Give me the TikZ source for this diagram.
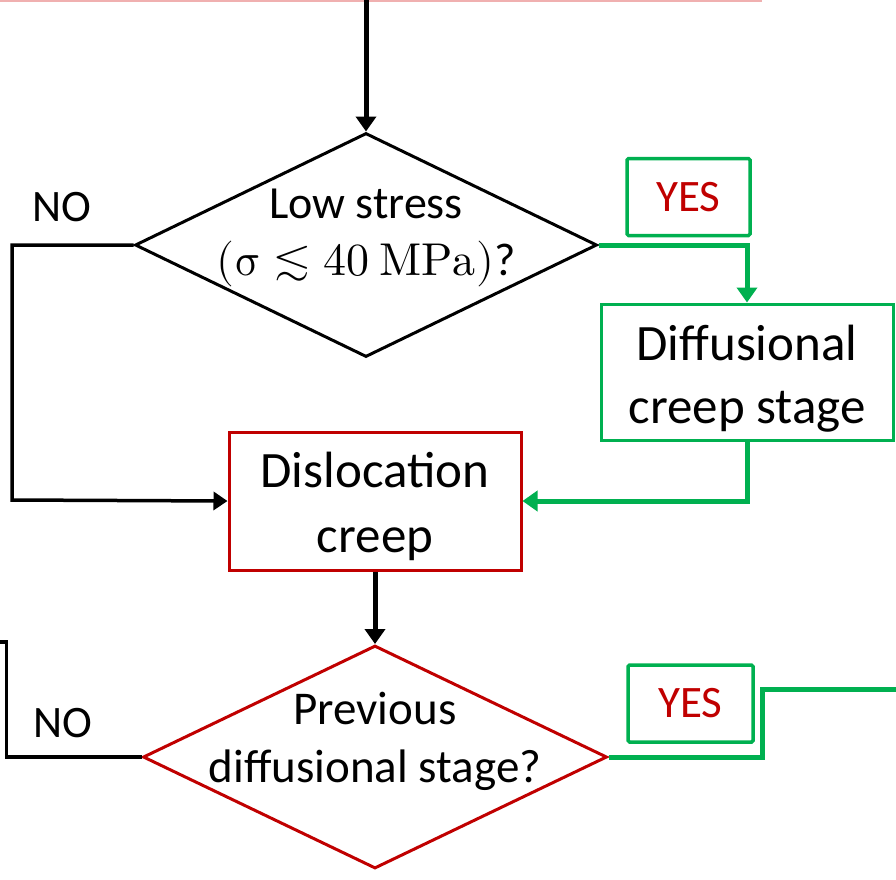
\documentclass[tikz,border=0pt]{standalone}
\usepackage{fontspec}
\usepackage{unicode-math}
\setmainfont{Carlito}
\setmathfont{Latin Modern Math}
\usetikzlibrary{arrows.meta,shapes.geometric}
\definecolor{gr}{RGB}{0,176,80}
\definecolor{rd}{RGB}{192,0,0}
\definecolor{pinkline}{RGB}{240,176,176}
\tikzset{
  dia/.style={shape=diamond, draw, line width=3pt, inner sep=0pt},
  proc/.style={draw, line width=3pt, inner sep=0pt, align=center},
  yesbox/.style={draw=gr, line width=3.5pt, rounded corners=1.5pt, minimum width=123pt, minimum height=77pt, text=rd, font=\fontsize{45}{54}\selectfont},
  lbl/.style={font=\fontsize{45}{54}\selectfont, inner sep=0pt},
  blk/.style={line width=5pt, -{Triangle[width=20pt,length=15pt]}},
  blkline/.style={line width=3.5pt},
  grn/.style={draw=gr, line width=5pt},
  grnarr/.style={draw=gr, line width=5pt, -{Triangle[width=20pt,length=15pt]}},
  txt/.style={align=center, inner sep=0pt}
}
\begin{document}
\begin{tikzpicture}[x=1pt,y=-1pt]
\useasboundingbox (0,0) rectangle (896,879);
\draw[pinkline, line width=1.6pt] (0,0.8) -- (762,0.8);
\coordinate (top) at (366,0);
% diamond 1
\node[dia, minimum width=462pt, minimum height=224pt] (d1) at (366,245) {};
\node[txt, font=\fontsize{46}{57}\selectfont] (d1t) at (366,238) {Low stress\\$(\symup{σ} \lesssim 40\ \symup{MPa})$?};
% diffusional box
\node[proc, draw=gr, minimum width=292pt, minimum height=136pt, font=\fontsize{51}{63}\selectfont] (diff) at (747,372) {};
\node[txt, font=\fontsize{51}{63}\selectfont] (difft) at (747,379) {Diffusional\\creep stage};
% dislocation box
\node[proc, draw=rd, minimum width=292pt, minimum height=138pt] (disl) at (375,501) {};
\node[txt, font=\fontsize{51}{65}\selectfont] (disltxt) at (375,506) {Dislocation\\creep};
% diamond 2
\node[dia, draw=rd, minimum width=464pt, minimum height=223pt] (d2) at (375,757) {};
\node[txt, font=\fontsize{47}{58}\selectfont] (d2t) at (375,741) {Previous\\diffusional stage?};
% labels
\node[lbl] (no1) at (62,207) {NO};
\node[lbl] (no2) at (63,723) {NO};
\node[yesbox] (yes1) at (688.5,197) {YES};
\node[yesbox, minimum width=125pt] (yes2) at (690.5,703.5) {YES};
% connectors
\draw[blk] (top) -- (d1.north);
\draw[blkline, -{Triangle[width=18pt,length=14pt]}] (d1.west) -| (12,500) -- (disl.west);
\draw[grnarr] (d1.east) -| (diff.north);
\draw[grnarr] (diff.south) |- (disl.east);
\draw[blk] (disl.south) -- (d2.north);
\coordinate (lo) at (0,642);
\draw[blkline] (d2.west) -| (6.5,642) -- (lo);
\coordinate (ro) at (896,689);
\draw[grn] (d2.east) -| (762,689) -- (ro);
\end{tikzpicture}
\end{document}
